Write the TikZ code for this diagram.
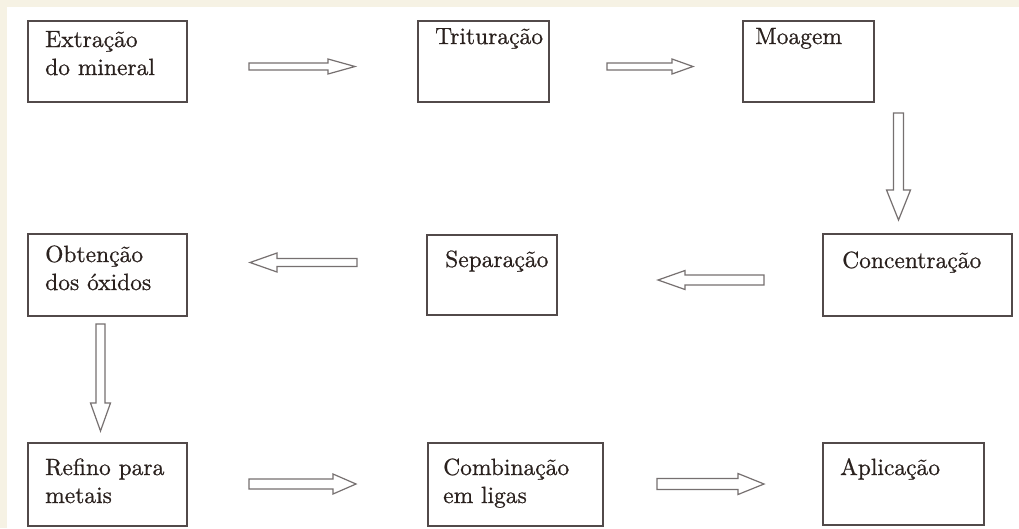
\documentclass[tikz,border=0pt]{standalone}
\usepackage{fontspec}
\newfontfamily\stagefont{lmroman10-regular.otf}[FakeBold=0.7]
\usetikzlibrary{calc}
\definecolor{cream}{HTML}{F6F2E4}
\definecolor{boxline}{HTML}{524A4A}
\definecolor{arrline}{HTML}{767070}
\definecolor{txt}{HTML}{2A211E}
\newcommand\blkarrow[6]{% #1 coord name, #2 rotation, #3 length, #4 shaft half, #5 head half, #6 head length
  \begin{scope}[shift={(#1)},rotate=#2]
    \draw[blockarr] (0,-#4) -- (#3-#6,-#4) -- (#3-#6,-#5) -- (#3,0) -- (#3-#6,#5) -- (#3-#6,#4) -- (0,#4) -- cycle;
  \end{scope}}
\tikzset{
  stagebox/.style={draw=boxline,line width=2pt,rectangle,inner sep=0pt},
  stagetext/.style={anchor=base west,inner sep=0pt,text=txt,font=\stagefont\fontsize{23.5}{28}\selectfont},
  blockarr/.style={draw=arrline,line width=1.2pt,fill=white,line join=miter},
}
\newcommand\twoline[2]{\begin{tabular}[t]{@{}l@{}}#1\\#2\end{tabular}}
\begin{document}
\begin{tikzpicture}[x=1pt,y=-1pt]
\useasboundingbox (0,0) rectangle (1019,528);
\fill[cream] (0,0) rectangle (1019,528);
\fill[white] (7,7) rectangle (1019,528);
% boxes
\node[stagebox,minimum width=159pt,minimum height=81pt,anchor=north west] (b1) at (27,20) {};
\node[stagebox,minimum width=131pt,minimum height=81pt,anchor=north west] (b2) at (417,20) {};
\node[stagebox,minimum width=131pt,minimum height=81pt,anchor=north west] (b3) at (742,20) {};
\node[stagebox,minimum width=159pt,minimum height=82pt,anchor=north west] (b4) at (27,233) {};
\node[stagebox,minimum width=130pt,minimum height=80pt,anchor=north west] (b5) at (426,234) {};
\node[stagebox,minimum width=189pt,minimum height=82pt,anchor=north west] (b6) at (822,233) {};
\node[stagebox,minimum width=159pt,minimum height=83pt,anchor=north west] (b7) at (27,442) {};
\node[stagebox,minimum width=175pt,minimum height=83pt,anchor=north west] (b8) at (427,442) {};
\node[stagebox,minimum width=161pt,minimum height=82pt,anchor=north west] (b9) at (822,442) {};
% texts
\node[stagetext] (t1) at (45,47) {\twoline{Extração}{do mineral}};
\node[stagetext] (t2) at (435,44) {Trituração};
\node[stagetext] (t3) at (755,44) {Moagem};
\node[stagetext] (t4) at (45,262) {\twoline{Obtenção}{dos óxidos}};
\node[stagetext] (t5) at (445,267) {Separação};
\node[stagetext] (t6) at (842,268) {Concentração};
\node[stagetext] (t7) at (45,475) {\twoline{Refino para}{metais}};
\node[stagetext] (t8) at (443,475) {\twoline{Combinação}{em ligas}};
\node[stagetext] (t9) at (840,475) {Aplicação};
% arrows
\coordinate (a1) at (249,66.5);
\coordinate (a2) at (607,66.5);
\coordinate (a3) at (898.5,113);
\coordinate (a4) at (764,280);
\coordinate (a5) at (357,262.5);
\coordinate (a6) at (100.5,324);
\coordinate (a7) at (249,484);
\coordinate (a8) at (657,484);
\blkarrow{a1}{0}{106}{3.5}{7.5}{27}
\blkarrow{a2}{0}{86}{3.5}{7.5}{21}
\blkarrow{a3}{-90}{107}{5}{12}{30}
\blkarrow{a4}{180}{106}{5}{9.5}{27}
\blkarrow{a5}{180}{107}{4}{9.5}{27}
\blkarrow{a6}{-90}{107}{4.5}{10}{28}
\blkarrow{a7}{0}{107}{5}{10}{23}
\blkarrow{a8}{0}{107}{5.5}{10.5}{26}
\end{tikzpicture}
\end{document}
